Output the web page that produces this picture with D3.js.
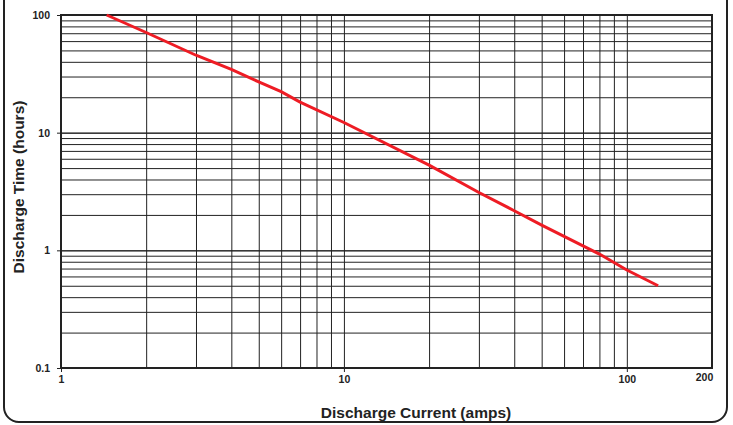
<!DOCTYPE html>
<html>
<head>
<meta charset="utf-8">
<script src="https://cdn.jsdelivr.net/npm/d3@7"></script>
<style>
  body { margin: 0; background: #fff; }
  svg { display: block; font-family: "Liberation Sans", Arial, Helvetica, sans-serif; }
  .tick text { font-weight: bold; font-size: 10.5px; fill: #222; }
  .title { font-weight: bold; font-size: 15.5px; fill: #222; }
</style>
</head>
<body>
<div id="chart"></div>
<script>
// Discharge current (amps) vs discharge time (hours)
var currentAmps = [1.45, 2, 3, 4, 5, 6, 7, 10, 20, 30, 40, 50, 80, 100, 129];
var timeHours = [100, 71, 45.5, 34.5, 27, 22.3, 18.2, 12.2, 5.3, 3.1, 2.17, 1.64, 0.93, 0.68, 0.5];

var xTickLabels = [1, 10, 100, 200];
var yTickLabels = [0.1, 1, 10, 100];

var width = 733;
var height = 425;

// plot area (no "top" name: it clashes with window.top)
var plotLeft = 61, plotRight = 712, plotTop = 15, plotBottom = 368;

var svg = d3.select("#chart")
  .append("svg")
  .attr("width", width)
  .attr("height", height);

// rounded frame round the whole chart, its top is cut off
svg.append("rect")
  .attr("x", 4)
  .attr("y", -30)
  .attr("width", 723)
  .attr("height", 452)
  .attr("rx", 15)
  .attr("fill", "none")
  .attr("stroke", "#222")
  .attr("stroke-width", 2);

var xScale = d3.scaleLog().domain([1, 200]).range([plotLeft, plotRight]);
var yScale = d3.scaleLog().domain([0.1, 100]).range([plotBottom, plotTop]);

// grid values: 1..9 of every decade
var xGrid = [];
[1, 10, 100].forEach(function(d) {
  for (var i = 1; i < 10; i++) {
    if (d * i <= 100) xGrid.push(d * i);
  }
});
var yGrid = [];
[0.1, 1, 10].forEach(function(d) {
  for (var i = 1; i <= 10; i++) yGrid.push(+(d * i).toPrecision(3));
});

// vertical grid
svg.append("g")
  .attr("class", "xGrid")
  .attr("transform", "translate(0," + plotBottom + ")")
  .call(d3.axisBottom(xScale).tickValues(xGrid).tickSize(-(plotBottom - plotTop)).tickFormat(""))
  .call(function(g) { g.select(".domain").remove(); })
  .selectAll("line").attr("stroke", "#222").attr("stroke-width", 1);

// horizontal grid
svg.append("g")
  .attr("class", "yGrid")
  .attr("transform", "translate(" + plotLeft + ",0)")
  .call(d3.axisLeft(yScale).tickValues(yGrid).tickSize(-(plotRight - plotLeft)).tickFormat(""))
  .call(function(g) { g.select(".domain").remove(); })
  .selectAll("line").attr("stroke", "#222").attr("stroke-width", 1);

// plot border
svg.append("rect")
  .attr("x", plotLeft)
  .attr("y", plotTop)
  .attr("width", plotRight - plotLeft)
  .attr("height", plotBottom - plotTop)
  .attr("fill", "none")
  .attr("stroke", "#222")
  .attr("stroke-width", 2);

// x axis labels
var xAxis = svg.append("g")
  .attr("class", "xAxis")
  .attr("transform", "translate(0," + plotBottom + ")")
  .call(d3.axisBottom(xScale).tickValues(xTickLabels).tickSize(4).tickPadding(4)
    .tickFormat(function(d) { return d; }));
xAxis.select(".domain").remove();
xAxis.selectAll("line").attr("stroke", "#222");
xAxis.selectAll(".tick")
  .filter(function(d) { return d === 200; })
  .each(function() {
    d3.select(this).select("line").remove();
    d3.select(this).select("text").attr("dx", -8).attr("dy", "0.5em");
  });

// y axis labels
var yAxis = svg.append("g")
  .attr("class", "yAxis")
  .attr("transform", "translate(" + plotLeft + ",0)")
  .call(d3.axisLeft(yScale).tickValues(yTickLabels).tickSize(4).tickPadding(7)
    .tickFormat(function(d) { return d; }));
yAxis.select(".domain").remove();
yAxis.selectAll("line").attr("stroke", "#222");

// the discharge curve
var line = d3.line()
  .x(function(d, i) { return xScale(currentAmps[i]); })
  .y(function(d, i) { return yScale(timeHours[i]); });

svg.append("path")
  .datum(currentAmps)
  .attr("d", line)
  .attr("fill", "none")
  .attr("stroke", "#ee1c24")
  .attr("stroke-width", 3);

// axis titles
svg.append("text")
  .attr("class", "title")
  .attr("x", 416)
  .attr("y", 418)
  .attr("text-anchor", "middle")
  .text("Discharge Current (amps)");

svg.append("text")
  .attr("class", "title")
  .attr("transform", "translate(24,187)rotate(-90)")
  .attr("text-anchor", "middle")
  .text("Discharge Time (hours)");
</script>
</body>
</html>
